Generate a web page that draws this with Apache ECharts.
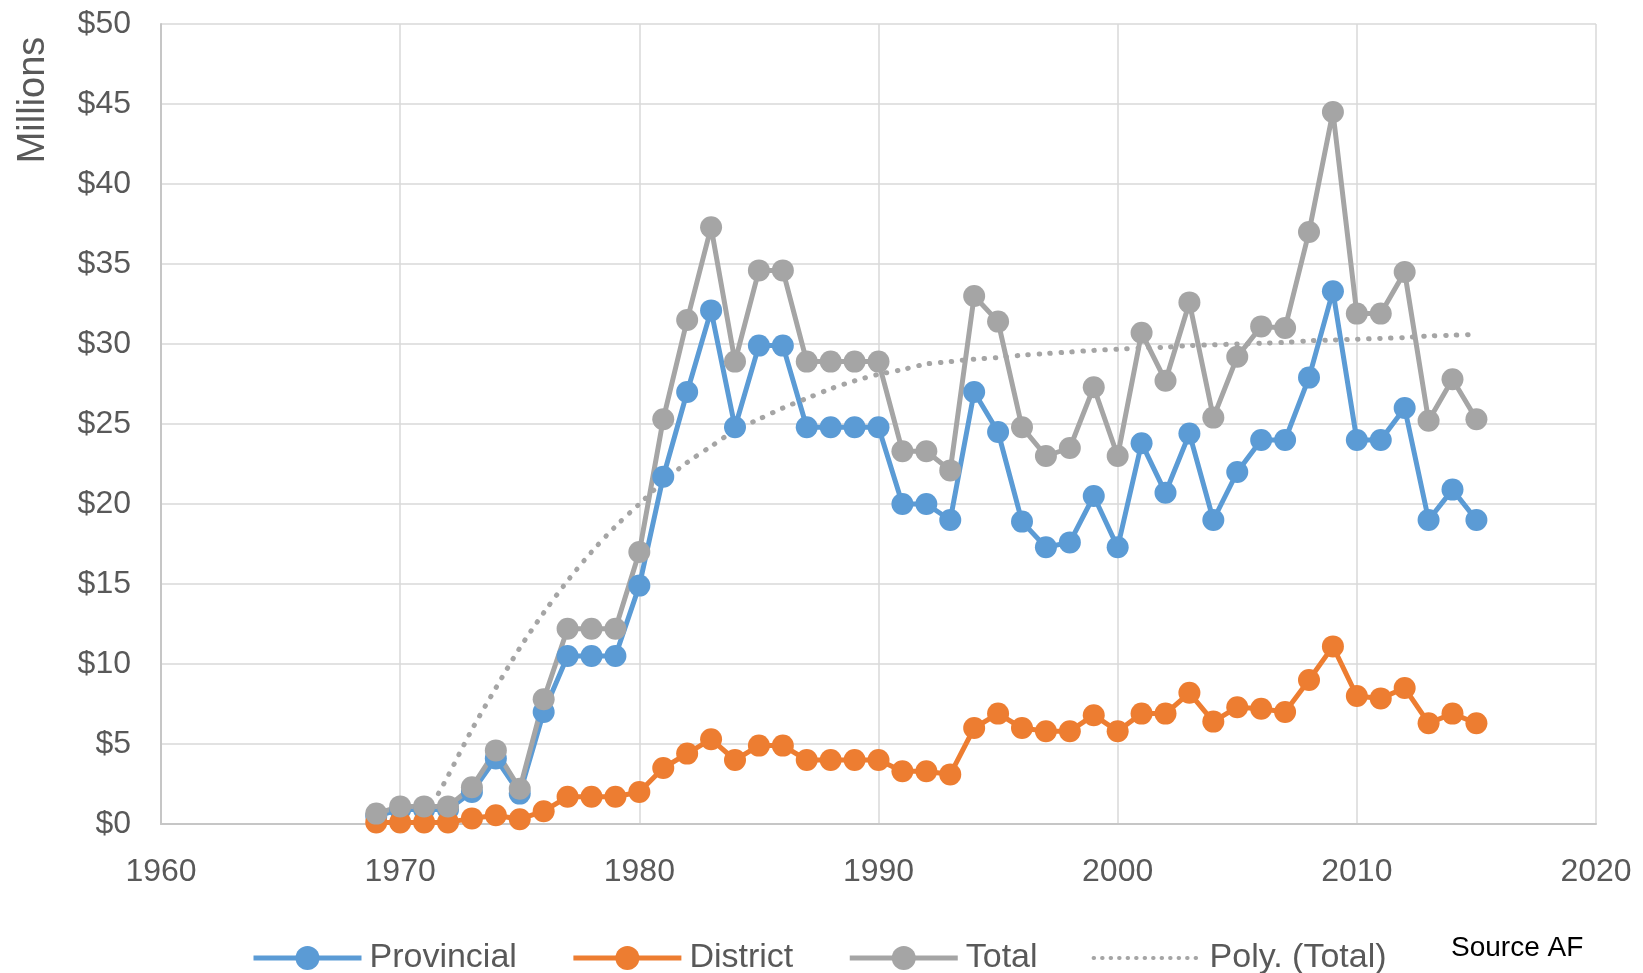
<!DOCTYPE html>
<html>
<head>
<meta charset="utf-8">
<script src="https://cdn.jsdelivr.net/npm/echarts@6/dist/echarts.min.js"></script>
<style>
  html, body { margin: 0; padding: 0; background: #fff; }
  #chart { width: 1643px; height: 973px; }
</style>
</head>
<body>
<div id="chart"></div>
<script>
// ---- Data ----
const years = [1969,1970,1971,1972,1973,1974,1975,1976,1977,1978,1979,
               1980,1981,1982,1983,1984,1985,1986,1987,1988,1989,
               1990,1991,1992,1993,1994,1995,1996,1997,1998,1999,
               2000,2001,2002,2003,2004,2005,2006,2007,2008,2009,
               2010,2011,2012,2013,2014,2015];

const provincial = [0.5, 0.9, 0.9, 0.9, 2.0, 4.1, 1.9, 7.0, 10.5, 10.5, 10.5,
                    14.9, 21.7, 27.0, 32.1, 24.8, 29.9, 29.9, 24.8, 24.8, 24.8,
                    24.8, 20.0, 20.0, 19.0, 27.0, 24.5, 18.9, 17.3, 17.6, 20.5,
                    17.3, 23.8, 20.7, 24.4, 19.0, 22.0, 24.0, 24.0, 27.9, 33.3,
                    24.0, 24.0, 26.0, 19.0, 20.9, 19.0];

const district = [0.1, 0.1, 0.1, 0.1, 0.35, 0.55, 0.3, 0.8, 1.7, 1.7, 1.7,
                  2.0, 3.5, 4.4, 5.3, 4.0, 4.9, 4.9, 4.0, 4.0, 4.0,
                  4.0, 3.3, 3.3, 3.1, 6.0, 6.9, 6.0, 5.8, 5.8, 6.8,
                  5.8, 6.9, 6.9, 8.2, 6.4, 7.3, 7.2, 7.0, 9.0, 11.1,
                  8.0, 7.85, 8.5, 6.3, 6.9, 6.3];

const total = [0.65, 1.1, 1.1, 1.1, 2.3, 4.6, 2.2, 7.8, 12.2, 12.2, 12.2,
               17.0, 25.3, 31.5, 37.3, 28.9, 34.6, 34.6, 28.9, 28.9, 28.9,
               28.9, 23.3, 23.3, 22.1, 33.0, 31.4, 24.8, 23.0, 23.5, 27.3,
               23.0, 30.7, 27.7, 32.6, 25.4, 29.2, 31.1, 31.0, 37.0, 44.5,
               31.9, 31.9, 34.5, 25.2, 27.8, 25.3];

// Polynomial trendline of Total (visible from ~1971.6)
const trendYears = [1971.6, 1972, 1973, 1974, 1975, 1976, 1977, 1978, 1979,
                    1980, 1981, 1982, 1983, 1984, 1985, 1986, 1987, 1988, 1989,
                    1990, 1991, 1992, 1993, 1994, 1995, 1996, 1997, 1998, 1999,
                    2000, 2001, 2002, 2003, 2004, 2005, 2006, 2007, 2008, 2009,
                    2010, 2011, 2012, 2013, 2014, 2015];
const trendValues = [1.9, 3.0, 5.9, 8.5, 11.0, 13.2, 15.2, 17.0, 18.6,
                     20.0, 21.4, 22.6, 23.6, 24.6, 25.3, 26.0, 26.6, 27.2, 27.7,
                     28.1, 28.4, 28.75, 28.9, 29.05, 29.15, 29.3, 29.4, 29.5, 29.6,
                     29.67, 29.75, 29.8, 29.9, 29.95, 30.0, 30.05, 30.1, 30.2, 30.25,
                     30.3, 30.35, 30.4, 30.5, 30.55, 30.6];

const seriesNames = ['Provincial', 'District', 'Total', 'Poly. (Total)'];
const xTicks = { min: 1960, max: 2020, step: 10 };
const yTicks = { min: 0, max: 50, step: 5 };

// ---- Chart ----
const FONT = '"Liberation Sans", Arial, sans-serif';
const TEXT = '#595959';
const COLORS = ['#5B9BD5', '#ED7D31', '#A5A5A5', '#A5A5A5'];
const LINE_W = 5;
const TREND_DASH = [0.5, 10.5];
const pairs = (xs, ys) => xs.map((x, i) => [x, ys[i]]);

const chart = echarts.init(document.getElementById('chart'), null, { renderer: 'canvas' });

function lineSeries(name, values, color) {
  return {
    name: name,
    type: 'line',
    data: pairs(years, values),
    symbol: 'circle',
    symbolSize: 22,
    showAllSymbol: true,
    itemStyle: { color: color },
    lineStyle: { color: color, width: LINE_W },
    emphasis: { disabled: true }
  };
}

chart.setOption({
  animation: false,
  backgroundColor: '#fff',
  textStyle: { fontFamily: FONT },
  grid: { left: 161, right: 47, top: 24, bottom: 149, containLabel: false },
  xAxis: {
    type: 'value',
    min: xTicks.min, max: xTicks.max, interval: xTicks.step,
    axisLine: { show: true, lineStyle: { color: '#c6c6c6', width: 2 } },
    axisTick: { show: false },
    splitLine: { show: true, lineStyle: { color: '#d9d9d9', width: 1.5 } },
    axisLabel: { color: TEXT, fontSize: 32, fontFamily: FONT, margin: 32, showMinLabel: true, showMaxLabel: true,
                 formatter: v => String(v) }
  },
  yAxis: {
    type: 'value',
    min: yTicks.min, max: yTicks.max, interval: yTicks.step,
    axisLine: { show: true, lineStyle: { color: '#c6c6c6', width: 2 } },
    axisTick: { show: false },
    splitLine: { show: true, lineStyle: { color: '#d9d9d9', width: 1.5 } },
    axisLabel: { color: TEXT, fontSize: 32, fontFamily: FONT, margin: 30, formatter: v => '$' + v }
  },
  legend: {
    data: [
      { name: seriesNames[0], lineStyle: { width: LINE_W, color: COLORS[0] }, itemStyle: { color: COLORS[0] } },
      { name: seriesNames[1], lineStyle: { width: LINE_W, color: COLORS[1] }, itemStyle: { color: COLORS[1] } },
      { name: seriesNames[2], lineStyle: { width: LINE_W, color: COLORS[2] }, itemStyle: { color: COLORS[2] } },
      { name: seriesNames[3], lineStyle: { width: 4, color: COLORS[3], type: [0.5, 8], cap: 'round' },
        itemStyle: { opacity: 0 } }
    ],
    left: 246,
    top: 936,
    itemWidth: 108,
    itemHeight: 30,
    itemGap: 54,
    textStyle: { color: TEXT, fontSize: 34, fontFamily: FONT, padding: [0, 0, 0, 3] },
    selectedMode: false
  },
  graphic: [
    {
      type: 'text',
      x: 34, y: 100,
      rotation: Math.PI / 2,
      style: { text: 'Millions', fontSize: 38, fontFamily: FONT, fill: TEXT, align: 'center', verticalAlign: 'middle' }
    },
    {
      type: 'text',
      x: 1451, y: 948,
      style: { text: 'Source AF', fontSize: 28, fontFamily: FONT, fill: '#000', align: 'left', verticalAlign: 'middle' }
    }
  ],
  series: [
    lineSeries(seriesNames[0], provincial, COLORS[0]),
    lineSeries(seriesNames[1], district, COLORS[1]),
    lineSeries(seriesNames[2], total, COLORS[2]),
    {
      name: seriesNames[3],
      type: 'line',
      data: pairs(trendYears, trendValues),
      showSymbol: false,
      symbol: 'none',
      smooth: 0.3,
      itemStyle: { color: COLORS[3] },
      lineStyle: { color: COLORS[3], width: 5, type: TREND_DASH, cap: 'round' },
      emphasis: { disabled: true }
    }
  ]
});
</script>
</body>
</html>
